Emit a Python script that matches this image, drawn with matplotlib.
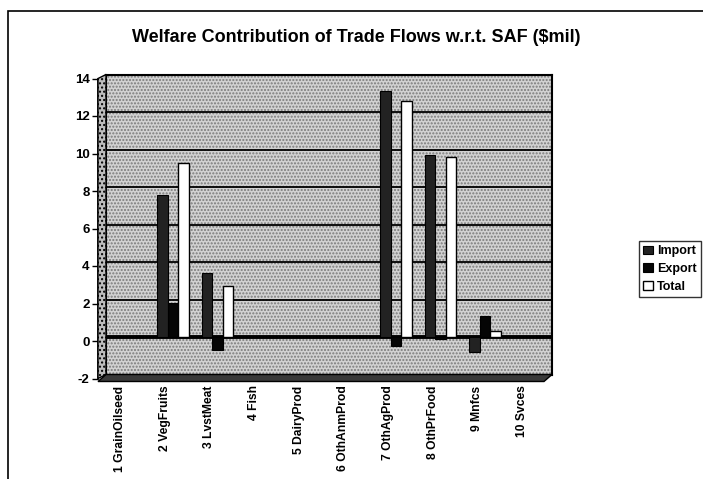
import matplotlib
matplotlib.use("Agg")
import matplotlib.pyplot as plt
from matplotlib.patches import Rectangle, Polygon
import numpy as np

plt.rcParams['font.family'] = ['Liberation Sans', 'DejaVu Sans']
plt.rcParams['font.weight'] = 'bold'

# data
sectors = ["1 GrainOilseed", "2 VegFruits", "3 LvstMeat", "4 Fish", "5 DairyProd",
           "6 OthAnmProd", "7 OthAgProd", "8 OthPrFood", "9 Mnfcs", "10 Svces"]
imports = [0.05, 7.6, 3.4, 0.02, 0.02, 0.02, 13.1, 9.7, -0.8, 0.02]
exports = [0.02, 1.8, -0.7, 0.02, 0.02, 0.02, -0.5, -0.1, 1.1, 0.02]
totals = [0.08, 9.3, 2.7, 0.06, 0.06, 0.06, 12.6, 9.6, 0.3, 0.08]
yticks = list(range(-2, 15, 2))

W, H = 703, 479
fig = plt.figure(figsize=(W / 100, H / 100), dpi=100)

# chart border
fig.patches.append(Rectangle((8 / W, -0.01), 1.0, 1 - 11 / H + 0.01, transform=fig.transFigure,
                             fill=False, edgecolor='black', lw=1.2))

# back wall axes (bars + grid)
wl, wt, ww, wh = 106, 74.5, 446, 300
dx, dy = 8, 4
ax = fig.add_axes([wl / W, 1 - (wt + wh) / H, ww / W, wh / H])
ax.set_xlim(-0.5, 9.5)
ax.set_ylim(-2, 14)
ax.set_facecolor('#c4c4c4')
ax.add_patch(Rectangle((0, 0), 1, 1, transform=ax.transAxes, facecolor='#d2d2d2',
                       hatch='.....', edgecolor='#7a7a7a', lw=0, zorder=0))
ax.set_yticks(yticks)
ax.yaxis.grid(True, color='black', lw=1.3)
ax.set_axisbelow(True)
ax.tick_params(left=False, bottom=False, labelleft=False, labelbottom=False)
for s in ax.spines.values():
    s.set_linewidth(1.5)
ax.axhline(0, color='black', lw=2.8, zorder=1)

x = np.arange(len(sectors))
bw = 0.236
ax.bar(x - bw, imports, bw, color='#222222', edgecolor='black', lw=0.8, zorder=3, label='Import')
ax.bar(x, exports, bw, color='#050505', edgecolor='black', lw=0.8, zorder=3, label='Export')
ax.bar(x + bw, totals, bw, color='white', edgecolor='black', lw=1.0, zorder=3, label='Total')

# side wall and floor
def px(xp, yp):
    return (xp / W, 1 - yp / H)

fig.patches.append(Polygon([px(wl - dx, wt + dy), px(wl, wt), px(wl, wt + wh), px(wl - dx, wt + wh + dy)],
                           closed=True, transform=fig.transFigure, facecolor='#bdbdbd',
                           hatch='....', edgecolor='black', lw=1.0))
fig.patches.append(Polygon([px(wl, wt + wh), px(wl + ww, wt + wh), px(wl + ww - dx, wt + wh + dy + 3),
                            px(wl - dx, wt + wh + dy + 3)],
                           closed=True, transform=fig.transFigure, facecolor='#3a3a3a',
                           edgecolor='black', lw=1.0))

# front axes holding the value and category labels
fa = fig.add_axes([(wl - dx) / W, 1 - (wt + wh + dy) / H, ww / W, wh / H])
fa.set_xlim(-0.5, 9.5)
fa.set_ylim(-2, 14)
fa.patch.set_alpha(0)
for k in ['top', 'right', 'bottom']:
    fa.spines[k].set_visible(False)
fa.spines['left'].set_linewidth(1.2)
fa.set_yticks(yticks)
fa.set_yticklabels([str(v) for v in yticks], fontsize=9.5, fontweight='bold')
fa.tick_params(axis='y', length=4, width=1.0, pad=2)
fa.set_xticks(x)
fa.set_xticklabels(sectors, rotation=90, fontsize=8.7, fontweight='bold')
fa.tick_params(axis='x', length=0, pad=5)

fig.text(356 / W, 1 - 37 / H, "Welfare Contribution of Trade Flows w.r.t. SAF (\\$mil)",
         ha='center', va='center', fontsize=13, fontweight='bold')

h, l = ax.get_legend_handles_labels()
fig.legend(h, l, loc='center', bbox_to_anchor=(670 / W, 1 - 269 / H), frameon=True,
           fancybox=False, edgecolor='black', prop={'size': 9, 'weight': 'bold'},
           handlelength=0.8, handleheight=0.7, handletextpad=0.3, borderpad=0.35,
           labelspacing=0.45, borderaxespad=0)

fig.savefig("out.png", dpi=100)
